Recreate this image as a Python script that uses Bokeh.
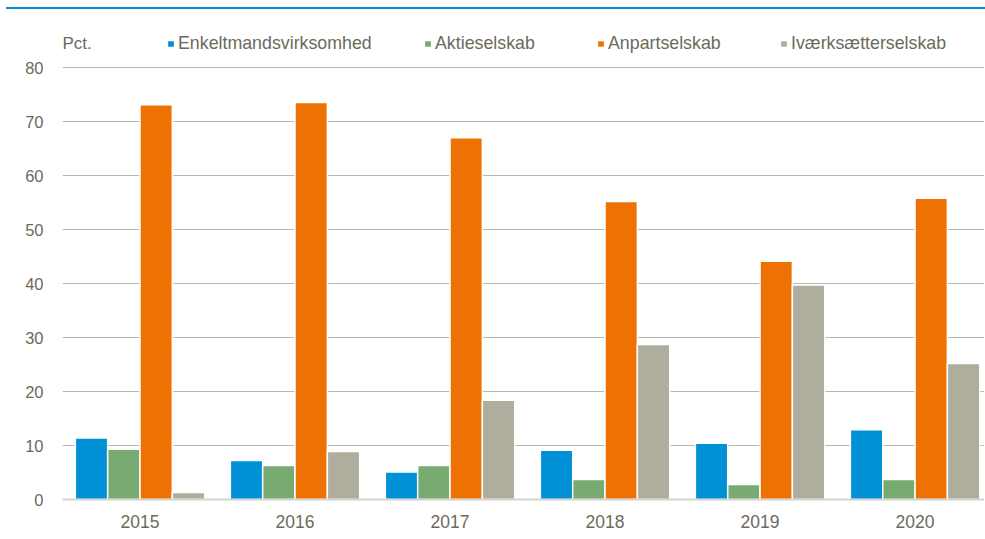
from bokeh.plotting import figure
from bokeh.models import Range1d, FixedTicker, Legend, LegendItem, Label, Div, ColumnDataSource
from bokeh.transform import dodge
from bokeh.layouts import column
from bokeh.embed import file_html
from bokeh.resources import INLINE

years = ["2015", "2016", "2017", "2018", "2019", "2020"]
enkeltmand = [11.4, 7.2, 5.1, 9.1, 10.4, 12.9]
aktieselskab = [9.3, 6.3, 6.3, 3.7, 2.8, 3.7]
anpartselskab = [73.1, 73.5, 67.0, 55.2, 44.1, 55.8]
ivaerksaetter = [1.3, 8.9, 18.4, 28.7, 39.7, 25.2]
series_names = ["Enkeltmandsvirksomhed", "Aktieselskab", "Anpartselskab", "Iværksætterselskab"]
series_values = [enkeltmand, aktieselskab, anpartselskab, ivaerksaetter]
colors = ["#0090d5", "#77ab72", "#ee7203", "#afad9e"]
y_ticks = [0, 10, 20, 30, 40, 50, 60, 70, 80]
unit_label = "Pct."

FONT = "'Liberation Sans Narrow', 'Liberation Sans', sans-serif"
TXT = "#6b6a5c"

xs = list(range(len(years)))
src = ColumnDataSource(dict(x=xs, s0=enkeltmand, s1=aktieselskab, s2=anpartselskab, s3=ivaerksaetter))

W = 984
H = 529
p = figure(width=W, height=H, output_backend="svg", toolbar_location=None,
           x_range=Range1d(-0.5, 5.448), y_range=Range1d(0, 90.556),
           min_border_left=62, min_border_right=0, min_border_top=1, min_border_bottom=39)
p.outline_line_color = None
p.background_fill_color = "white"
p.border_fill_color = "white"

bw = 0.2086
offsets = [-1.5 * bw, -0.5 * bw, 0.5 * bw, 1.5 * bw]
renderers = []
for i, (name, col) in enumerate(zip(series_names, colors)):
    r = p.vbar(x=dodge("x", offsets[i], range=p.x_range), top="s%d" % i, width=bw, source=src,
               fill_color=col, line_color="white", line_width=1.5)
    renderers.append(r)

# axes
p.yaxis.ticker = FixedTicker(ticks=y_ticks)
p.xaxis.ticker = FixedTicker(ticks=xs)
p.xaxis.major_label_overrides = {i: y for i, y in enumerate(years)}
for ax in (p.xaxis, p.yaxis):
    ax.major_tick_out = 0
    ax.major_tick_in = 0
    ax.minor_tick_out = 0
    ax.minor_tick_in = 0
    ax.major_label_text_font = FONT
    ax.major_label_text_color = TXT
p.yaxis.axis_line_color = None
p.yaxis.major_label_standoff = 19
p.yaxis.major_label_text_font_size = "16.5px"
p.xaxis.axis_line_color = "#d4d3cc"
p.xaxis.axis_line_width = 2
p.xaxis.major_label_standoff = 15
p.xaxis.major_label_text_font_size = "17.5px"

p.xgrid.grid_line_color = None
p.ygrid.grid_line_color = "#b9b7ad"
p.ygrid.grid_line_width = 1.2

# unit label
p.add_layout(Label(x=-0.5, y=84.4, text=unit_label, text_font=FONT, text_font_size="17px",
                   text_color=TXT, text_baseline="middle", text_align="left"))

# legends (one per entry, to match spacing)
leg_x = [104, 361, 534, 717]
for i in range(4):
    lg = Legend(items=[LegendItem(label=series_names[i], renderers=[renderers[i]])],
                location=(leg_x[i], 445), orientation="horizontal",
                padding=0, margin=0, border_line_color=None, background_fill_alpha=0,
                glyph_width=9, glyph_height=9, label_standoff=3,
                label_text_font=FONT, label_text_font_size="17.8px", label_text_color=TXT)
    p.add_layout(lg)

topline = Div(text="", width=979, height=2, margin=(7, 0, 0, 6),
              styles={"background-color": "#0090d5"})
layout = column(topline, p, spacing=0)
open("out.html", "w").write(file_html(layout, INLINE))
